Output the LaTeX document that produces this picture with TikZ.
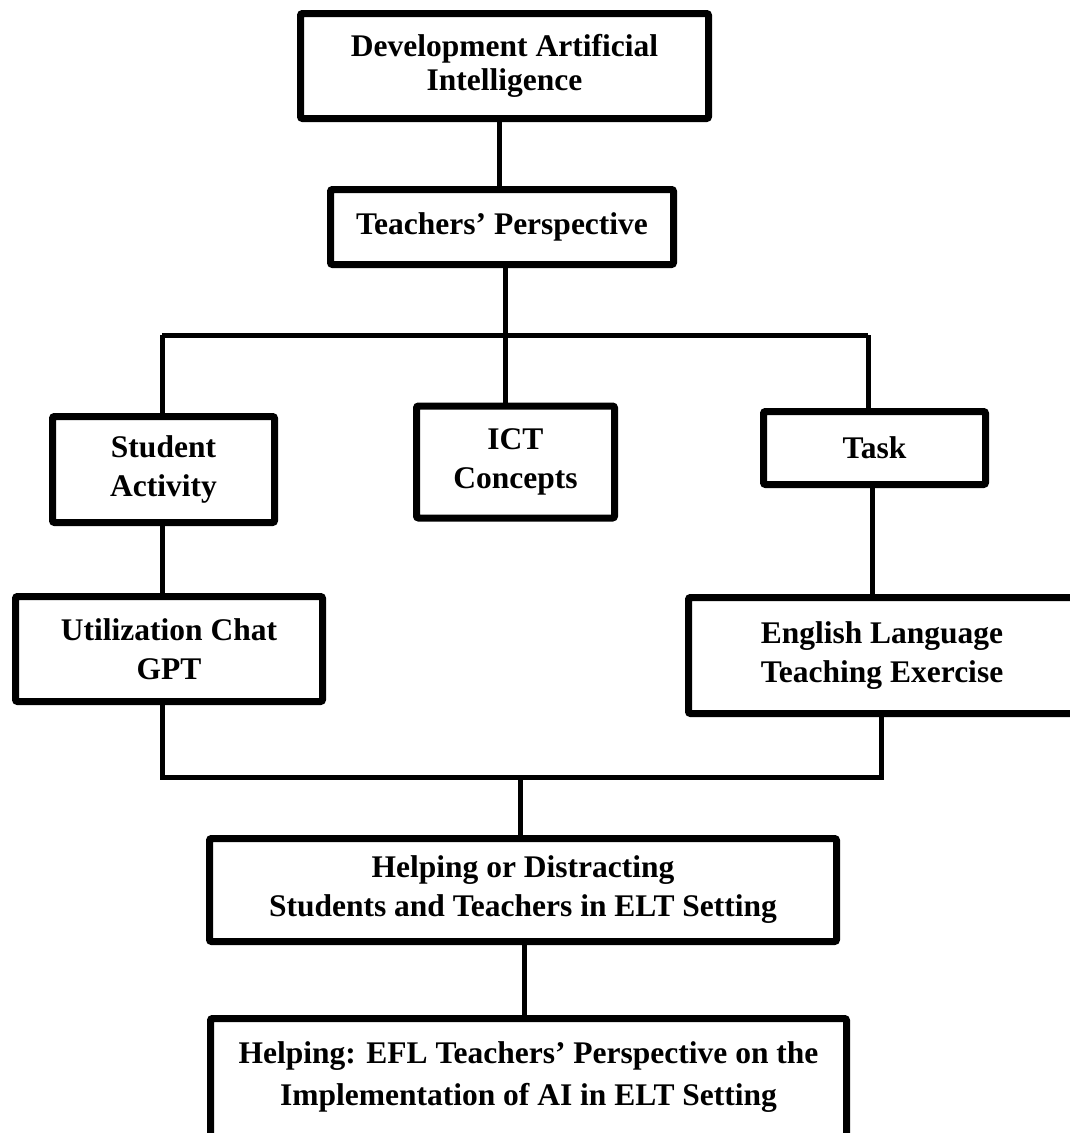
\documentclass[tikz,border=0pt]{standalone}
\usepackage{fontspec}
\setmainfont{Liberation Serif}
\begin{document}
\begin{tikzpicture}[x=1pt,y=-1pt,
  box/.style={draw=black, line width=7pt, rounded corners=2pt, fill=white,
    align=center, inner sep=0pt,
    font=\fontsize{31.5}{39}\selectfont\bfseries},
  conn/.style={draw=black, line width=5pt}]
\useasboundingbox[fill=white] (0,0) rectangle (1070,1133);
% boxes
\node[box, minimum width=408pt, minimum height=105pt, font=\fontsize{31.5}{34}\selectfont\bfseries] (dev) at (504.5,66) {Development Artificial\\Intelligence};
\node[box, minimum width=343pt, minimum height=75pt] (tp) at (502,227) {Teachers’ Perspective};
\node[box, minimum width=222pt, minimum height=106pt] (sa) at (163.5,469.5) {Student\\Activity};
\node[box, minimum width=198pt, minimum height=112pt] (ict) at (515.5,462) {ICT\\Concepts};
\node[box, minimum width=222pt, minimum height=73pt] (task) at (874.5,448) {Task};
\node[box, minimum width=307pt, minimum height=105pt] (ucg) at (169,649) {Utilization Chat\\GPT};
\node[box, minimum width=387pt, minimum height=116pt] (elt) at (882,655.5) {English Language\\Teaching Exercise};
\node[box, minimum width=627pt, minimum height=103pt] (hd) at (523,890) {Helping or Distracting\\Students and Teachers in ELT Setting};
\node[box, minimum width=636pt, minimum height=118pt, font=\fontsize{31.5}{42}\selectfont\bfseries] (fin) at (528.5,1077.5) {Helping: EFL Teachers’ Perspective on the\\Implementation of AI in ELT Setting};
% junction coordinates
\coordinate (barL) at (162,335);
\coordinate (barM) at (505,335);
\coordinate (barR) at (868,335);
\coordinate (botL) at (162,777);
\coordinate (botM) at (520,777);
\coordinate (botR) at (881,777);
\coordinate (topC) at (499,0);
\coordinate (taskC) at (872,0);
\coordinate (finC) at (524,0);
% connectors
\draw[conn] (dev.south -| topC) -- (tp.north -| topC);
\draw[conn] (tp.south -| barM) -- (barM);
\draw[conn] (barL) -- (barR);
\draw[conn] (barL) -- (barL |- sa.north);
\draw[conn] (barM) -- (barM |- ict.north);
\draw[conn] (barR) -- (barR |- task.north);
\draw[conn] (sa.south -| barL) -- (ucg.north -| barL);
\draw[conn] (task.south -| taskC) -- (elt.north -| taskC);
\draw[conn] (ucg.south -| botL) -- (botL) -- (botR) -- (elt.south -| botR);
\draw[conn] (botM) -- (hd.north -| botM);
\draw[conn] (hd.south -| finC) -- (fin.north -| finC);
\end{tikzpicture}
\end{document}
